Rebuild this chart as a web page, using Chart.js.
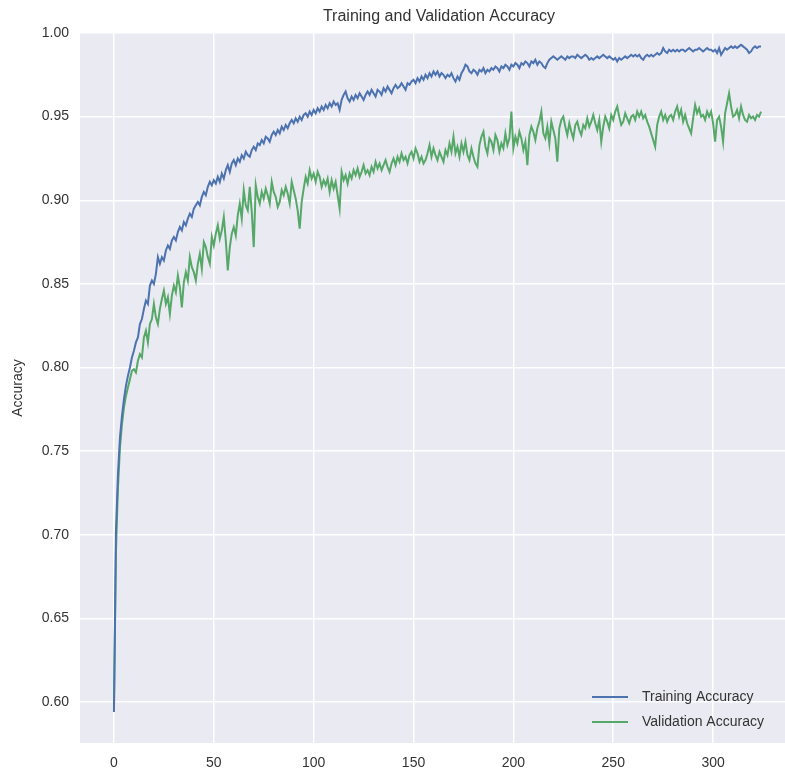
<!DOCTYPE html>
<html>
<head>
<meta charset="utf-8">
<title>Training and Validation Accuracy</title>
<script src="https://cdn.jsdelivr.net/npm/chart.js@4.4.1/dist/chart.umd.min.js"></script>
<style>
  html, body { margin: 0; padding: 0; background: #ffffff; }
  #grafica { display: block; }
</style>
</head>
<body>
<canvas id="grafica" width="785" height="776"></canvas>
<script>
const TITULO = 'Training and Validation Accuracy';
const ETIQUETA_Y = 'Accuracy';
const NOMBRES_SERIES = ['Training Accuracy', 'Validation Accuracy'];
const COLORES = ['#4C72B0', '#55A868'];

const TICKS_X = [0, 50, 100, 150, 200, 250, 300];
const TICKS_Y = [0.60, 0.65, 0.70, 0.75, 0.80, 0.85, 0.90, 0.95, 1.00];

// precisión de entrenamiento por época (0..324)
const accEntrenamiento = [
    0.594, 0.702, 0.736, 0.758, 0.771, 0.781, 0.789, 0.795, 0.800, 0.806,
    0.810, 0.815, 0.818, 0.826, 0.829, 0.835, 0.840, 0.838, 0.849, 0.852,
    0.850, 0.856, 0.866, 0.862, 0.866, 0.864, 0.870, 0.873, 0.871, 0.876,
    0.878, 0.876, 0.881, 0.884, 0.882, 0.887, 0.885, 0.889, 0.892, 0.890,
    0.895, 0.897, 0.899, 0.897, 0.902, 0.905, 0.903, 0.908, 0.911, 0.909,
    0.912, 0.910, 0.914, 0.911, 0.916, 0.913, 0.918, 0.921, 0.917, 0.922,
    0.924, 0.921, 0.925, 0.923, 0.927, 0.925, 0.929, 0.927, 0.926, 0.930,
    0.932, 0.930, 0.934, 0.933, 0.936, 0.934, 0.938, 0.937, 0.935, 0.939,
    0.941, 0.939, 0.942, 0.940, 0.944, 0.942, 0.945, 0.943, 0.946, 0.948,
    0.946, 0.949, 0.947, 0.950, 0.948, 0.951, 0.952, 0.950, 0.953, 0.951,
    0.954, 0.952, 0.955, 0.953, 0.956, 0.954, 0.957, 0.955, 0.958, 0.956,
    0.959, 0.957, 0.958, 0.954, 0.960, 0.963, 0.965, 0.961, 0.959, 0.962,
    0.960, 0.963, 0.961, 0.964, 0.962, 0.960, 0.963, 0.965, 0.963, 0.966,
    0.964, 0.962, 0.966, 0.965, 0.963, 0.967, 0.965, 0.968, 0.966, 0.964,
    0.967, 0.969, 0.967, 0.968, 0.970, 0.968, 0.966, 0.970, 0.969, 0.971,
    0.972, 0.970, 0.973, 0.971, 0.974, 0.972, 0.975, 0.973, 0.976, 0.974,
    0.977, 0.975, 0.977, 0.974, 0.976, 0.975, 0.973, 0.975, 0.974, 0.976,
    0.973, 0.971, 0.974, 0.972, 0.976, 0.978, 0.981, 0.980, 0.977, 0.976,
    0.978, 0.977, 0.975, 0.978, 0.977, 0.979, 0.976, 0.978, 0.977, 0.979,
    0.978, 0.980, 0.979, 0.977, 0.980, 0.979, 0.981, 0.980, 0.978, 0.981,
    0.980, 0.982, 0.981, 0.979, 0.982, 0.981, 0.983, 0.982, 0.980, 0.983,
    0.982, 0.984, 0.981, 0.983, 0.982, 0.980, 0.979, 0.982, 0.984, 0.985,
    0.986, 0.985, 0.984, 0.985, 0.986, 0.985, 0.984, 0.986, 0.985, 0.986,
    0.986, 0.985, 0.987, 0.986, 0.985, 0.986, 0.987, 0.986, 0.984, 0.985,
    0.984, 0.985, 0.986, 0.985, 0.986, 0.987, 0.986, 0.985, 0.986, 0.985,
    0.984, 0.985, 0.983, 0.985, 0.984, 0.985, 0.986, 0.985, 0.986, 0.987,
    0.986, 0.987, 0.986, 0.987, 0.985, 0.984, 0.986, 0.987, 0.986, 0.987,
    0.986, 0.987, 0.988, 0.987, 0.988, 0.991, 0.989, 0.988, 0.990, 0.989,
    0.990, 0.989, 0.990, 0.989, 0.990, 0.990, 0.989, 0.990, 0.991, 0.990,
    0.989, 0.990, 0.990, 0.991, 0.990, 0.989, 0.990, 0.991, 0.990, 0.990,
    0.989, 0.990, 0.988, 0.991, 0.987, 0.989, 0.991, 0.990, 0.991, 0.992,
    0.991, 0.992, 0.991, 0.992, 0.993, 0.992, 0.991, 0.990, 0.988, 0.989,
    0.991, 0.992, 0.991, 0.992, 0.992
];

// precisión de validación por época (0..324)
const accValidacion = [
    0.596, 0.690, 0.728, 0.752, 0.766, 0.776, 0.783, 0.788, 0.793, 0.798,
    0.799, 0.797, 0.804, 0.808, 0.806, 0.818, 0.822, 0.815, 0.826, 0.829,
    0.838, 0.830, 0.826, 0.835, 0.841, 0.846, 0.838, 0.842, 0.832, 0.843,
    0.849, 0.845, 0.855, 0.848, 0.836, 0.851, 0.857, 0.852, 0.866, 0.860,
    0.857, 0.852, 0.862, 0.868, 0.859, 0.875, 0.872, 0.866, 0.862, 0.878,
    0.873, 0.880, 0.885, 0.877, 0.882, 0.890, 0.876, 0.858, 0.872, 0.880,
    0.884, 0.879, 0.891, 0.898, 0.889, 0.906, 0.897, 0.894, 0.908, 0.893,
    0.872, 0.909, 0.902, 0.898, 0.905, 0.901, 0.907, 0.903, 0.898, 0.911,
    0.905, 0.902, 0.896, 0.899, 0.906, 0.903, 0.908, 0.904, 0.898, 0.911,
    0.906, 0.901, 0.894, 0.883, 0.899, 0.907, 0.914, 0.910, 0.918, 0.913,
    0.916, 0.911, 0.917, 0.914, 0.908, 0.912, 0.909, 0.913, 0.905, 0.912,
    0.907, 0.911, 0.903, 0.895, 0.917, 0.912, 0.915, 0.910, 0.916, 0.913,
    0.918, 0.915, 0.919, 0.914, 0.917, 0.921, 0.916, 0.918, 0.915, 0.920,
    0.917, 0.923, 0.919, 0.922, 0.918, 0.921, 0.924, 0.920, 0.917, 0.922,
    0.925, 0.921, 0.926, 0.923, 0.928, 0.924, 0.926, 0.922, 0.927, 0.929,
    0.925, 0.931, 0.928, 0.923, 0.926, 0.922, 0.924, 0.928, 0.933, 0.926,
    0.931, 0.927, 0.924, 0.929, 0.926, 0.923, 0.930, 0.927, 0.934, 0.929,
    0.938, 0.928, 0.932, 0.926, 0.934, 0.929, 0.935, 0.927, 0.924, 0.931,
    0.926, 0.922, 0.920, 0.933, 0.938, 0.941, 0.932, 0.928, 0.937, 0.935,
    0.930, 0.939, 0.936, 0.929, 0.934, 0.931, 0.940, 0.933, 0.937, 0.953,
    0.931, 0.938, 0.934, 0.941, 0.937, 0.930, 0.935, 0.921, 0.939, 0.944,
    0.941, 0.936, 0.943, 0.947, 0.953, 0.940, 0.937, 0.944, 0.934, 0.947,
    0.942, 0.937, 0.923, 0.943, 0.948, 0.950, 0.944, 0.939, 0.946, 0.941,
    0.937, 0.945, 0.947, 0.942, 0.939, 0.945, 0.943, 0.949, 0.944, 0.947,
    0.951, 0.946, 0.942, 0.948, 0.935, 0.944, 0.950, 0.947, 0.943, 0.951,
    0.948, 0.953, 0.956, 0.950, 0.945, 0.947, 0.952, 0.949, 0.946, 0.950,
    0.951, 0.948, 0.953, 0.950, 0.953, 0.949, 0.951, 0.947, 0.944, 0.940,
    0.936, 0.932, 0.945, 0.950, 0.953, 0.948, 0.951, 0.947, 0.950, 0.951,
    0.948, 0.953, 0.956, 0.950, 0.954, 0.947, 0.951, 0.946, 0.943, 0.940,
    0.949, 0.957, 0.952, 0.955, 0.950, 0.951, 0.948, 0.953, 0.950, 0.953,
    0.946, 0.935, 0.948, 0.950, 0.944, 0.935, 0.952, 0.958, 0.964, 0.956,
    0.950, 0.951, 0.954, 0.949, 0.956, 0.951, 0.948, 0.947, 0.951, 0.949,
    0.950, 0.948, 0.951, 0.950, 0.953
];

const FUENTE = '"Liberation Sans", Arial, sans-serif';
const COLOR_TEXTO = '#333333';

function comoPuntos(valores) {
    return valores.map((v, epoca) => ({ x: epoca, y: v }));
}

// título y leyenda dibujados a mano (estilo seaborn, sin marco)
const extras = {
    id: 'extras',
    afterDraw(chart) {
        const ctx = chart.ctx;
        const area = chart.chartArea;
        ctx.save();
        ctx.fillStyle = COLOR_TEXTO;
        ctx.font = '16px ' + FUENTE;
        ctx.textAlign = 'center';
        ctx.textBaseline = 'middle';
        ctx.fillText(TITULO, 439, 17);

        ctx.font = '14px ' + FUENTE;
        ctx.textAlign = 'left';
        chart.data.datasets.forEach((ds, i) => {
            const y = area.bottom - 46 + i * 25;
            ctx.strokeStyle = ds.borderColor;
            ctx.lineWidth = 2;
            ctx.beginPath();
            ctx.moveTo(592, y);
            ctx.lineTo(628, y);
            ctx.stroke();
            ctx.fillStyle = COLOR_TEXTO;
            ctx.fillText(ds.label, 642, y);
        });
        ctx.restore();
    }
};

const fondoGrafica = {
    id: 'fondoGrafica',
    beforeDraw(chart) {
        const { ctx, chartArea: a } = chart;
        ctx.save();
        ctx.fillStyle = '#EAEAF2';
        ctx.fillRect(a.left, a.top, a.right - a.left, a.bottom - a.top);
        ctx.restore();
    }
};

new Chart(document.getElementById('grafica'), {
    type: 'line',
    data: {
        datasets: [
            {
                label: NOMBRES_SERIES[0],
                data: comoPuntos(accEntrenamiento),
                borderColor: COLORES[0],
                borderWidth: 2,
                pointRadius: 0,
                tension: 0,
                fill: false
            },
            {
                label: NOMBRES_SERIES[1],
                data: comoPuntos(accValidacion),
                borderColor: COLORES[1],
                borderWidth: 2,
                pointRadius: 0,
                tension: 0,
                fill: false
            }
        ]
    },
    options: {
        responsive: false,
        animation: false,
        devicePixelRatio: 1,
        layout: { padding: { top: 33, left: 0, right: 0, bottom: 0 } },
        plugins: {
            legend: { display: false },
            title: { display: false },
            tooltip: { enabled: false }
        },
        scales: {
            x: {
                type: 'linear',
                min: -17,
                max: 336,
                afterBuildTicks(scale) {
                    scale.ticks = TICKS_X.map(v => ({ value: v }));
                },
                afterFit(scale) { scale.height = 33; },
                grid: { color: '#ffffff', lineWidth: 1.5, drawTicks: false },
                border: { display: false },
                ticks: {
                    padding: 12,
                    color: COLOR_TEXTO,
                    font: { family: FUENTE, size: 14 },
                    maxRotation: 0,
                    callback: v => String(v)
                }
            },
            y: {
                type: 'linear',
                min: 0.5755,
                max: 1.0,
                afterBuildTicks(scale) {
                    scale.ticks = TICKS_Y.map(v => ({ value: v }));
                },
                afterFit(scale) { scale.width = 80; },
                grid: { color: '#ffffff', lineWidth: 1.5, drawTicks: false },
                border: { display: false },
                title: {
                    display: true,
                    text: ETIQUETA_Y,
                    color: COLOR_TEXTO,
                    font: { family: FUENTE, size: 14 },
                    padding: { top: 10, bottom: 0 }
                },
                ticks: {
                    padding: 11,
                    color: COLOR_TEXTO,
                    font: { family: FUENTE, size: 14 },
                    callback: v => Number(v).toFixed(2)
                }
            }
        }
    },
    plugins: [fondoGrafica, extras]
});
</script>
</body>
</html>
